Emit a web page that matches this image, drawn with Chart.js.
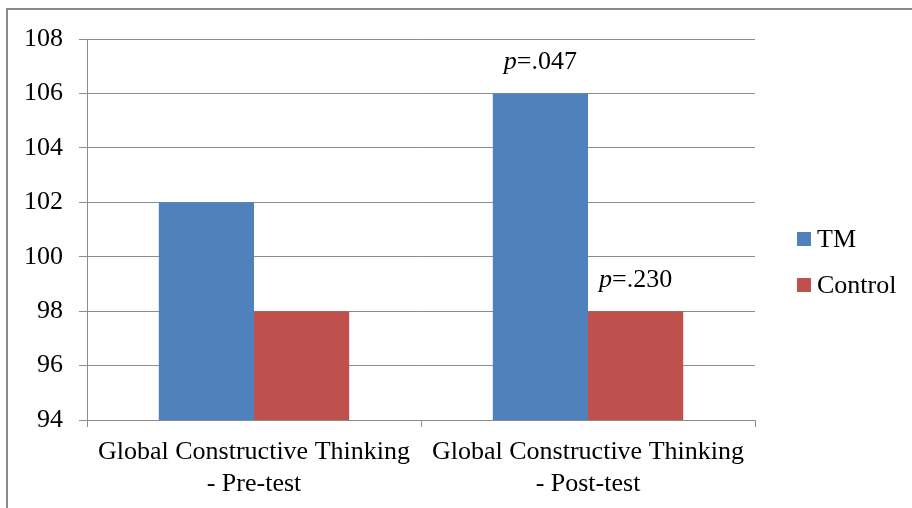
<!DOCTYPE html>
<html>
<head>
    <meta charset="utf-8" />
    <title>chart</title>
    <script src="https://cdn.jsdelivr.net/npm/chart.js"></script>
    <style>
        body {
            margin: 0;
            background: #ffffff;
        }

        .frame {
            position: absolute;
            left: 6px;
            top: 8px;
            width: 1000px;
            height: 600px;
            border-left: 2px solid #8a8a8a;
            border-top: 2px solid #8a8a8a;
        }

        #barChart {
            position: absolute;
            left: 0;
            top: 0;
        }
    </style>
</head>
<body>
    <div class="frame"></div>
    <canvas id="barChart" width="912" height="508"></canvas>

<script>
    // data
    var categories = [
        ["Global Constructive Thinking", "- Pre-test"],
        ["Global Constructive Thinking", "- Post-test"]
    ];
    var seriesNames = ["TM", "Control"];
    var tmValues = [102, 106];
    var controlValues = [98, 98];
    var tmNotes = ["", "p=.047"];
    var controlNotes = ["", "p=.230"];
    var yTicks = [94, 96, 98, 100, 102, 104, 106, 108];

    var fontFamily = "'Liberation Serif', 'Times New Roman', serif";
    var gridColor = "#8c8c8c";

    // p-values over the bars, "p" in italic
    var notePlugin = {
        id: 'notes',
        afterDatasetsDraw: function (chart) {
            var ctx = chart.ctx;
            var notes = [tmNotes, controlNotes];
            ctx.save();
            ctx.fillStyle = '#000';
            ctx.textBaseline = 'alphabetic';
            ctx.textAlign = 'left';
            chart.data.datasets.forEach(function (ds, i) {
                var meta = chart.getDatasetMeta(i);
                meta.data.forEach(function (bar, j) {
                    var txt = notes[i][j];
                    if (!txt) return;
                    var head = txt.charAt(0), rest = txt.slice(1);
                    ctx.font = "italic 26px " + fontFamily;
                    var w1 = ctx.measureText(head).width;
                    ctx.font = "26px " + fontFamily;
                    var w2 = ctx.measureText(rest).width;
                    var x = bar.x - (w1 + w2) / 2;
                    var y = bar.y - 24;
                    ctx.font = "italic 26px " + fontFamily;
                    ctx.fillText(head, x, y);
                    ctx.font = "26px " + fontFamily;
                    ctx.fillText(rest, x + w1, y);
                });
            });
            ctx.restore();
        }
    };

    // legend on the right, square markers
    var legendPlugin = {
        id: 'sideLegend',
        afterDraw: function (chart) {
            var ctx = chart.ctx;
            ctx.save();
            ctx.font = "26px " + fontFamily;
            ctx.textBaseline = 'alphabetic';
            ctx.textAlign = 'left';
            chart.data.datasets.forEach(function (ds, i) {
                var top = 232 + i * 46;
                ctx.fillStyle = ds.backgroundColor;
                ctx.fillRect(797, top, 14, 14);
                ctx.fillStyle = '#000';
                ctx.fillText(ds.label, 817, top + 15);
            });
            ctx.restore();
        }
    };

    var chart = new Chart(document.getElementById("barChart"), {
        type: 'bar',
        data: {
            labels: categories,
            datasets: [{
                label: seriesNames[0],
                data: tmValues,
                backgroundColor: "#4f81bd"
            }, {
                label: seriesNames[1],
                data: controlValues,
                backgroundColor: "#c0504d"
            }]
        },
        options: {
            responsive: false,
            animation: false,
            categoryPercentage: 0.57,
            barPercentage: 1.0,
            layout: {
                padding: { top: 39, right: 157, bottom: 0, left: 0 }
            },
            plugins: {
                legend: { display: false },
                tooltip: { enabled: false }
            },
            scales: {
                x: {
                    afterFit: function (scale) { scale.height = 88; },
                    grid: {
                        drawOnChartArea: false,
                        tickLength: 7,
                        color: gridColor,
                        lineWidth: 1
                    },
                    border: { color: gridColor, width: 1 },
                    ticks: {
                        color: '#000',
                        maxRotation: 0,
                        autoSkip: false,
                        padding: 10,
                        font: { family: fontFamily, size: 26, lineHeight: 1.2 }
                    }
                },
                y: {
                    min: 94,
                    max: 108,
                    afterFit: function (scale) { scale.width = 87; },
                    afterBuildTicks: function (scale) {
                        scale.ticks = yTicks.map(function (v) { return { value: v }; });
                    },
                    grid: {
                        color: gridColor,
                        lineWidth: 1,
                        tickLength: 8
                    },
                    border: { color: gridColor, width: 1 },
                    ticks: {
                        color: '#000',
                        padding: 16,
                        font: { family: fontFamily, size: 26 }
                    }
                }
            }
        },
        plugins: [notePlugin, legendPlugin]
    });
</script>
</body>
</html>
